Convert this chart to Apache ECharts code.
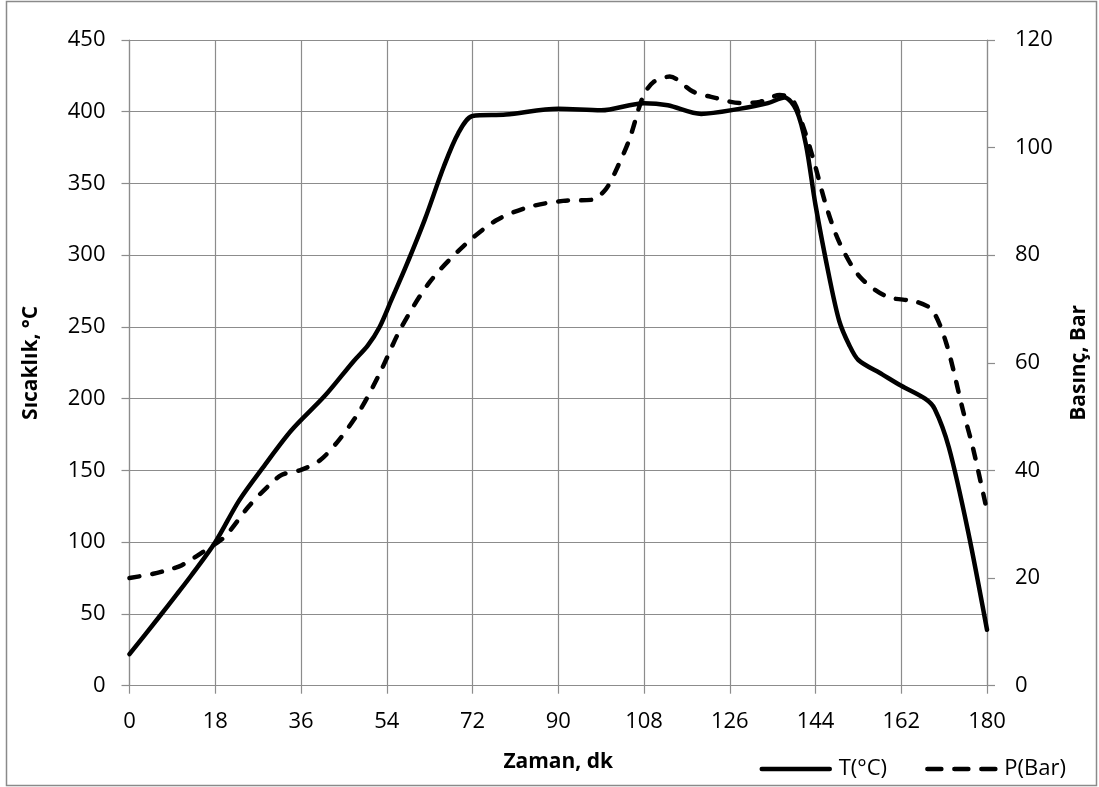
<!DOCTYPE html>
<html>
<head>
<meta charset="utf-8">
<script src="https://cdn.jsdelivr.net/npm/echarts@6/dist/echarts.min.js"></script>
<style>
  html, body { margin: 0; padding: 0; background: #fff; }
  #chart { width: 1099px; height: 787px; }
</style>
</head>
<body>
<div id="chart"></div>
<script>
// Time (minutes) and temperature (°C)
const tempTime = [0, 6, 10, 13, 18, 23, 28, 34, 41, 47, 50, 52.5, 55, 58, 62, 66, 69, 72, 79, 90, 99, 108, 113, 120, 128, 134, 137.5, 140, 142, 144, 147, 149, 151, 153, 158, 162, 167, 169, 172, 176, 180];
const tempValues = [22, 47, 64, 77, 100, 129, 152, 178, 202, 226, 237, 250, 269, 292, 325, 362, 385, 397, 398, 402, 401, 406, 404.5, 398.5, 402, 406, 410, 401, 377, 335, 283, 254, 238, 227, 217, 209, 200, 193, 166, 108, 39];

// Time (minutes) and pressure (bar)
const presTime = [0, 5, 8, 11, 16, 20, 25, 29, 32, 36, 40, 44, 48.4, 52.5, 57, 63, 70, 77, 84, 91, 97, 100, 102.5, 105, 107.8, 110, 113.4, 118.3, 123.2, 128, 132.3, 136.5, 139.2, 141, 143.4, 146.3, 149.1, 153.3, 159, 165, 168.5, 171.5, 175, 177, 180];
const presValues = [20, 20.8, 21.5, 22.4, 25.2, 27.7, 33.3, 37, 39.2, 40.1, 41.9, 45.7, 51.2, 58, 66.5, 75, 81.6, 86.5, 89, 90.1, 90.3, 92.3, 96.5, 101.7, 109.5, 112.2, 113.2, 110.4, 109.2, 108.3, 108.5, 109.8, 108.8, 105, 98.3, 89, 82.2, 76, 72.3, 71.4, 69.8, 63.5, 51, 44.4, 32.5];

// Axis ranges
const xRange = { min: 0, max: 180, step: 18 };
const tRange = { min: 0, max: 450, step: 50 };
const pRange = { min: 0, max: 120, step: 20 };

const FONT = 'Open Sans';
const GRID_GRAY = '#8c8c8c';

const pair = (xs, ys) => xs.map((x, i) => [x, ys[i]]);

const axisTitle = { fontFamily: FONT, fontSize: 21, fontWeight: 'bold', color: '#000' };
const tickLabel = { fontFamily: FONT, fontSize: 22, color: '#000' };
const grayLine = { color: GRID_GRAY, width: 1.2 };

const chart = echarts.init(document.getElementById('chart'), null, { renderer: 'canvas' });

chart.setOption({
  animation: false,
  backgroundColor: '#ffffff',
  textStyle: { fontFamily: FONT },
  grid: { left: 129.5, right: 112, top: 40, bottom: 101.3, containLabel: false },
  graphic: [{
    type: 'rect',
    shape: { x: 6.5, y: 1.5, width: 1090, height: 784 },
    style: { fill: 'none', stroke: '#8a8a8a', lineWidth: 1.5 },
    silent: true
  }],
  legend: {
    right: 28,
    bottom: 2,
    itemWidth: 68,
    itemHeight: 14,
    itemGap: 38,
    itemStyle: { color: 'rgba(0,0,0,0)', borderWidth: 0 },
    lineStyle: { width: 4.5 },
    textStyle: { fontFamily: FONT, fontSize: 22, color: '#000', padding: [0, 0, 0, 4] },
    data: [
      { name: 'T(°C)' },
      { name: 'P(Bar)', lineStyle: { type: [14, 13], width: 4.5 } }
    ]
  },
  xAxis: {
    type: 'value',
    min: xRange.min, max: xRange.max, interval: xRange.step,
    name: 'Zaman, dk',
    nameLocation: 'middle',
    nameGap: 66,
    nameTextStyle: axisTitle,
    axisLine: { show: true, lineStyle: grayLine },
    axisTick: { show: true, length: 8, lineStyle: grayLine },
    axisLabel: Object.assign({ margin: 25 }, tickLabel),
    splitLine: { show: true, lineStyle: grayLine }
  },
  yAxis: [{
    type: 'value',
    position: 'left',
    min: tRange.min, max: tRange.max, interval: tRange.step,
    name: 'Sıcaklık, °C',
    nameLocation: 'middle',
    nameGap: 88,
    nameTextStyle: axisTitle,
    axisLine: { show: true, lineStyle: grayLine },
    axisTick: { show: true, length: 8, lineStyle: grayLine },
    axisLabel: Object.assign({ margin: 24 }, tickLabel),
    splitLine: { show: true, lineStyle: grayLine }
  }, {
    type: 'value',
    position: 'right',
    min: pRange.min, max: pRange.max, interval: pRange.step,
    name: 'Basınç, Bar',
    nameLocation: 'middle',
    nameGap: 82,
    nameRotate: 90,
    nameTextStyle: axisTitle,
    axisLine: { show: true, lineStyle: grayLine },
    axisTick: { show: true, length: 8, lineStyle: grayLine },
    axisLabel: Object.assign({ margin: 28 }, tickLabel),
    splitLine: { show: false }
  }],
  series: [{
    name: 'T(°C)',
    type: 'line',
    yAxisIndex: 0,
    data: pair(tempTime, tempValues),
    smooth: 0.3,
    symbol: 'none',
    lineStyle: { color: '#000', width: 4.5, cap: 'round', join: 'round' },
    itemStyle: { color: '#000' },
    z: 3
  }, {
    name: 'P(Bar)',
    type: 'line',
    yAxisIndex: 1,
    data: pair(presTime, presValues),
    smooth: 0.3,
    symbol: 'none',
    lineStyle: { color: '#000', width: 4.5, type: [10, 13], cap: 'round', join: 'round' },
    itemStyle: { color: '#000' },
    z: 4
  }]
});
</script>
</body>
</html>
